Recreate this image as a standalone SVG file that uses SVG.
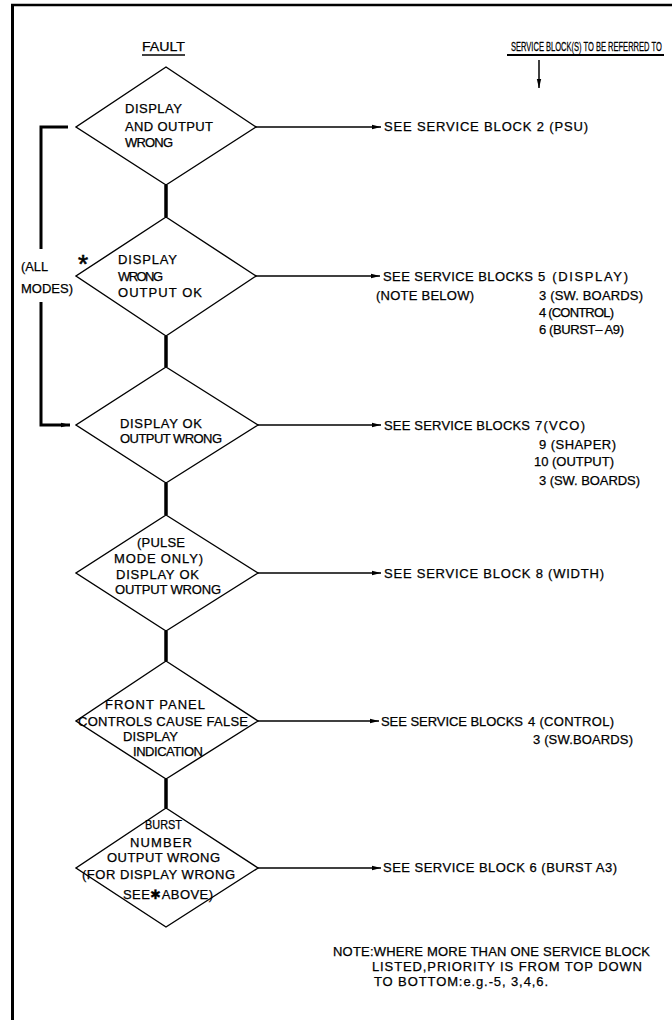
<svg xmlns="http://www.w3.org/2000/svg" width="672" height="1020" viewBox="0 0 672 1020">
<style>
.t{font-family:"Liberation Sans",Arial,sans-serif;font-size:13px;fill:#000;stroke:#000;stroke-width:0.25}
.d{fill:none;stroke:#000;stroke-width:1.4;stroke-linejoin:miter}
.th{fill:none;stroke:#000;stroke-width:3.5}
.ar{fill:none;stroke:#000;stroke-width:1.5}
.br{fill:none;stroke:#000;stroke-width:3}
.ul{stroke:#000;stroke-width:1.3}
</style>
<defs>
<marker id="ah" markerUnits="userSpaceOnUse" markerWidth="10" markerHeight="6" refX="9" refY="3" orient="auto">
<path d="M0,0.8 L9,3 L0,5.2 z" fill="#000"/>
</marker>
</defs>
<rect x="0" y="0" width="672" height="1020" fill="#fff"/>
<g id="frame">
<line x1="11" y1="5" x2="672" y2="5" stroke="#000" stroke-width="2.5"/>
<line x1="12.5" y1="4" x2="12.5" y2="1020" stroke="#000" stroke-width="3"/>
</g>
<g id="headers">
<text class="t" x="142" y="51" textLength="43" lengthAdjust="spacingAndGlyphs">FAULT</text>
<line class="ul" x1="142" y1="55" x2="185" y2="55"/>
<text class="t" transform="translate(511 51) scale(0.58 1)" x="0" y="0">SERVICE BLOCK(S) TO BE REFERRED TO</text>
<line x1="507" y1="55" x2="664" y2="55" stroke="#000" stroke-width="2"/>
</g>
<g id="connectors">
<line class="ar" x1="539" y1="60" x2="539" y2="88" marker-end="url(#ah)"/>
<line class="th" x1="166" y1="185" x2="166" y2="217"/>
<line class="th" x1="166" y1="336" x2="166" y2="367"/>
<line class="th" x1="166" y1="483" x2="166" y2="515"/>
<line class="th" x1="166" y1="631" x2="166" y2="661"/>
<line class="th" x1="166" y1="779" x2="166" y2="808"/>
<path class="br" d="M68,127 H41 V249"/>
<path class="br" d="M41,302 V425 H70" marker-end="url(#ah)"/>
<line class="ar" x1="256" y1="127" x2="381" y2="127" marker-end="url(#ah)"/>
<line class="ar" x1="256" y1="276" x2="380" y2="276" marker-end="url(#ah)"/>
<line class="ar" x1="258" y1="425" x2="381" y2="425" marker-end="url(#ah)"/>
<line class="ar" x1="258" y1="573" x2="381" y2="573" marker-end="url(#ah)"/>
<line class="ar" x1="258" y1="721" x2="379" y2="721" marker-end="url(#ah)"/>
<line class="ar" x1="258" y1="868" x2="381" y2="868" marker-end="url(#ah)"/>
<text class="t" x="21" y="271" textLength="27" lengthAdjust="spacingAndGlyphs">(ALL</text>
<text class="t" x="21" y="293" textLength="52" lengthAdjust="spacingAndGlyphs">MODES)</text>
</g>
<g id="n1">
<polygon class="d" points="166,67 256,127 166,185 76,127"/>
<text class="t" x="125" y="113" textLength="57" lengthAdjust="spacing">DISPLAY</text>
<text class="t" x="125" y="131" textLength="88" lengthAdjust="spacing">AND OUTPUT</text>
<text class="t" x="125" y="147" textLength="48" lengthAdjust="spacing">WRONG</text>
</g>
<g id="r1">
<text class="t" x="384" y="131" textLength="204" lengthAdjust="spacing">SEE SERVICE BLOCK 2 (PSU)</text>
</g>
<g id="n2">
<polygon class="d" points="166,217 256,276 166,336 76,276"/>
<text class="t" x="83" y="273" style="font-size:26px;stroke-width:0.6" text-anchor="middle">*</text>
<text class="t" x="118" y="264" textLength="59" lengthAdjust="spacing">DISPLAY</text>
<text class="t" x="118" y="281" textLength="45" lengthAdjust="spacing">WRONG</text>
<text class="t" x="118" y="297" textLength="84" lengthAdjust="spacing">OUTPUT OK</text>
</g>
<g id="r2">
<text class="t" x="383" y="281" textLength="150" lengthAdjust="spacing">SEE SERVICE BLOCKS</text>
<text class="t" x="538" y="281" textLength="90" lengthAdjust="spacing">5 (DISPLAY)</text>
<text class="t" x="376" y="300" textLength="98" lengthAdjust="spacing">(NOTE BELOW)</text>
<text class="t" x="539" y="300" textLength="104" lengthAdjust="spacing">3 (SW. BOARDS)</text>
<text class="t" x="539" y="317" textLength="75" lengthAdjust="spacing">4 (CONTROL)</text>
<text class="t" x="539" y="334" textLength="85" lengthAdjust="spacing">6 (BURST– A9)</text>
</g>
<g id="n3">
<polygon class="d" points="166,367 258,425 166,483 76,425"/>
<text class="t" x="120" y="428" textLength="82" lengthAdjust="spacing">DISPLAY OK</text>
<text class="t" x="120" y="443" textLength="102" lengthAdjust="spacing">OUTPUT WRONG</text>
</g>
<g id="r3">
<text class="t" x="384" y="430" textLength="146" lengthAdjust="spacing">SEE SERVICE BLOCKS</text>
<text class="t" x="535" y="430" textLength="50" lengthAdjust="spacing">7(VCO)</text>
<text class="t" x="539" y="449" textLength="77" lengthAdjust="spacing">9 (SHAPER)</text>
<text class="t" x="534" y="466" textLength="80" lengthAdjust="spacing">10 (OUTPUT)</text>
<text class="t" x="539" y="485" textLength="101" lengthAdjust="spacing">3 (SW. BOARDS)</text>
</g>
<g id="n4">
<polygon class="d" points="166,515 258,573 166,631 76,573"/>
<text class="t" x="137" y="547" textLength="48" lengthAdjust="spacing">(PULSE</text>
<text class="t" x="114" y="563" textLength="89" lengthAdjust="spacing">MODE ONLY)</text>
<text class="t" x="116" y="579" textLength="83" lengthAdjust="spacing">DISPLAY OK</text>
<text class="t" x="115" y="594" textLength="106" lengthAdjust="spacing">OUTPUT WRONG</text>
</g>
<g id="r4">
<text class="t" x="384" y="578" textLength="220" lengthAdjust="spacing">SEE SERVICE BLOCK 8 (WIDTH)</text>
</g>
<g id="n5">
<polygon class="d" points="166,661 258,721 166,779 76,721"/>
<text class="t" x="105" y="709" textLength="100" lengthAdjust="spacing">FRONT PANEL</text>
<text class="t" x="78" y="726" textLength="170" lengthAdjust="spacing">CONTROLS CAUSE FALSE</text>
<text class="t" x="123" y="741" textLength="55" lengthAdjust="spacing">DISPLAY</text>
<text class="t" x="133" y="756" textLength="70" lengthAdjust="spacing">INDICATION</text>
</g>
<g id="r5">
<text class="t" x="381" y="726" textLength="142" lengthAdjust="spacing">SEE SERVICE BLOCKS</text>
<text class="t" x="528" y="726" textLength="86" lengthAdjust="spacing">4 (CONTROL)</text>
<text class="t" x="533" y="744" textLength="100" lengthAdjust="spacing">3 (SW.BOARDS)</text>
</g>
<g id="n6">
<polygon class="d" points="166,808 258,868 166,927 76,868"/>
<text class="t" x="145" y="829" textLength="37" lengthAdjust="spacingAndGlyphs">BURST</text>
<text class="t" x="130" y="847" textLength="62" lengthAdjust="spacing">NUMBER</text>
<text class="t" x="107" y="862" textLength="113" lengthAdjust="spacing">OUTPUT WRONG</text>
<text class="t" x="82" y="879" textLength="153" lengthAdjust="spacing">(FOR DISPLAY WRONG</text>
<text class="t" x="123" y="899" textLength="90" lengthAdjust="spacing">SEE✱ABOVE)</text>
</g>
<g id="r6">
<text class="t" x="383" y="872" textLength="234" lengthAdjust="spacing">SEE SERVICE BLOCK 6 (BURST A3)</text>
</g>
<g id="note">
<text class="t" x="333" y="956" textLength="317" lengthAdjust="spacing">NOTE:WHERE MORE THAN ONE SERVICE BLOCK</text>
<text class="t" x="372" y="971" textLength="270" lengthAdjust="spacing">LISTED,PRIORITY IS FROM TOP DOWN</text>
<text class="t" x="374" y="986" textLength="174" lengthAdjust="spacing">TO BOTTOM:e.g.-5, 3,4,6.</text>
</g>
</svg>
